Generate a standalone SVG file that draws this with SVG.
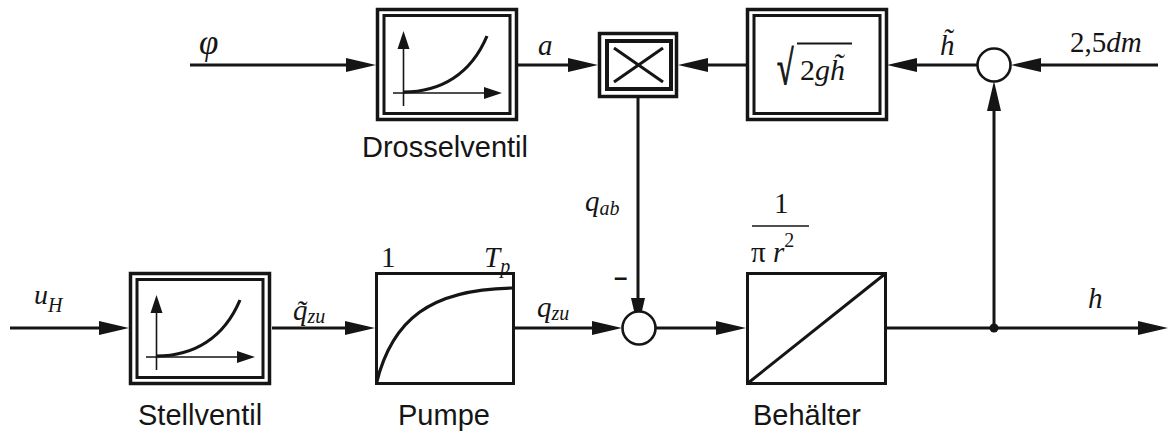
<svg xmlns="http://www.w3.org/2000/svg" width="1170" height="432" viewBox="0 0 1170 432">
<style>
.ln{fill:none;stroke:#151515;stroke-width:3}
.ax{fill:none;stroke:#151515;stroke-width:1.6}
.cv{fill:none;stroke:#151515;stroke-width:3.2}
.bo{fill:none;stroke:#151515;stroke-width:3.5}
.bi{fill:none;stroke:#151515;stroke-width:3}
.cir{fill:#fff;stroke:#151515;stroke-width:2.6}
.lab{font-family:"Liberation Sans",Arial,sans-serif;font-size:29px;fill:#151515}
.m{font-family:"Liberation Serif","Times New Roman",serif;font-size:29px;fill:#151515}
.i{font-style:italic}
.s{font-size:20px}
</style>
<defs>
<marker id="ar" markerUnits="userSpaceOnUse" markerWidth="30" markerHeight="14" refX="22" refY="7" orient="auto" overflow="visible">
<path d="M0,0 L30,7 L0,14 Z" fill="#151515"/>
</marker>
<marker id="sa" markerUnits="userSpaceOnUse" markerWidth="18" markerHeight="12" refX="14" refY="6" orient="auto" overflow="visible">
<path d="M0,0 L18,6 L0,12 Z" fill="#151515"/>
</marker>
<g id="dbox">
<rect class="bo" x="1.5" y="1.5" width="139" height="110"/>
<rect class="bi" x="8" y="7.5" width="126" height="98"/>
</g>
<g id="graph">
<line class="ax" x1="27.5" y1="98" x2="27.5" y2="27" marker-end="url(#sa)"/>
<line class="ax" x1="17" y1="85" x2="122" y2="85" marker-end="url(#sa)"/>
<path class="cv" d="M27.5,84 C65,84 95,66 111,28"/>
</g>
</defs>

<g id="connectors">
<line class="ln" x1="190" y1="65" x2="368" y2="65" marker-end="url(#ar)"/>
<line class="ln" x1="518" y1="65" x2="590" y2="65" marker-end="url(#ar)"/>
<line class="ln" x1="746" y1="65" x2="686" y2="65" marker-end="url(#ar)"/>
<line class="ln" x1="978" y1="65" x2="895" y2="65" marker-end="url(#ar)"/>
<line class="ln" x1="1158" y1="65" x2="1019" y2="65" marker-end="url(#ar)"/>
<line class="ln" x1="638" y1="98" x2="638" y2="320" marker-end="url(#ar)"/>
<line class="ln" x1="994" y1="328" x2="994" y2="89" marker-end="url(#ar)"/>
<line class="ln" x1="10" y1="328" x2="121" y2="328" marker-end="url(#ar)"/>
<line class="ln" x1="272" y1="328" x2="367" y2="328" marker-end="url(#ar)"/>
<line class="ln" x1="515" y1="328" x2="614" y2="328" marker-end="url(#ar)"/>
<line class="ln" x1="655" y1="328" x2="738" y2="328" marker-end="url(#ar)"/>
<line class="ln" x1="887" y1="328" x2="1160" y2="328" marker-end="url(#ar)"/>
<circle cx="994" cy="328" r="4.5" fill="#151515"/>
</g>

<g id="drosselventil">
<use href="#dbox" x="376" y="8"/>
<use href="#graph" x="376" y="8"/>
<text class="lab" x="362" y="157">Drosselventil</text>
</g>

<g id="multiplier">
<rect class="bo" x="599.5" y="33.5" width="77" height="63" fill="#fff"/>
<rect x="607" y="41" width="64" height="48" fill="none" stroke="#151515" stroke-width="4"/>
<line class="ln" x1="614" y1="48" x2="663" y2="82"/>
<line class="ln" x1="663" y1="48" x2="614" y2="82"/>
</g>

<g id="sqrt">
<use href="#dbox" x="746" y="8"/>
<text class="m" transform="translate(777,84) scale(1,1.6)" style="font-size:30px;stroke:#151515;stroke-width:0.8">√</text>
<line x1="797" y1="43.5" x2="852" y2="43.5" stroke="#151515" stroke-width="1.8"/>
<text class="m" x="800" y="80" style="font-size:30px">2<tspan class="i">gh̃</tspan></text>
</g>

<g id="sum-top">
<circle class="cir" cx="994" cy="65" r="16.5"/>
</g>

<g id="sum-bottom">
<circle class="cir" cx="639" cy="328" r="16.5"/>
<text x="614" y="285" style="font-family:'Liberation Sans',Arial,sans-serif;font-size:24px;font-weight:bold;fill:#151515">–</text>
</g>

<g id="stellventil">
<use href="#dbox" x="129" y="272"/>
<use href="#graph" x="129" y="272"/>
<text class="lab" x="138" y="425">Stellventil</text>
</g>

<g id="pumpe">
<rect class="bi" x="376.5" y="273.5" width="137" height="110"/>
<path class="cv" d="M376.5,383 C392,320 430,289 513,288"/>
<text class="m" x="381" y="267">1</text>
<text class="m i" x="484" y="267">T<tspan class="s" dx="0" dy="6">p</tspan></text>
<text class="lab" x="398" y="425">Pumpe</text>
</g>

<g id="behaelter">
<rect class="bi" x="747.5" y="273.5" width="138" height="110"/>
<line class="bi" x1="747.5" y1="383.5" x2="885.5" y2="273.5"/>
<text class="m" x="774" y="213">1</text>
<line x1="752" y1="226" x2="809" y2="226" stroke="#151515" stroke-width="1.5"/>
<text class="m" x="751" y="262">π <tspan class="i">r</tspan><tspan class="s" dy="-15">2</tspan></text>
<text class="lab" x="753" y="425">Behälter</text>
</g>

<g id="labels">
<text class="m i" x="199" y="54" style="font-size:35px">φ</text>
<text class="m i" x="538" y="55">a</text>
<text class="m i" x="940" y="55">h̃</text>
<text class="m" x="1070" y="52">2,5<tspan class="i">dm</tspan></text>
<text class="m i" x="34" y="304" style="font-size:28px">u<tspan class="s" dy="8">H</tspan></text>
<text class="m i" x="293" y="320">q̃<tspan class="s" dy="3">zu</tspan></text>
<text class="m i" x="537" y="317">q<tspan class="s" dy="3">zu</tspan></text>
<text class="m i" x="585" y="211">q<tspan class="s" dy="4">ab</tspan></text>
<text class="m i" x="1088" y="308">h</text>
</g>
</svg>
